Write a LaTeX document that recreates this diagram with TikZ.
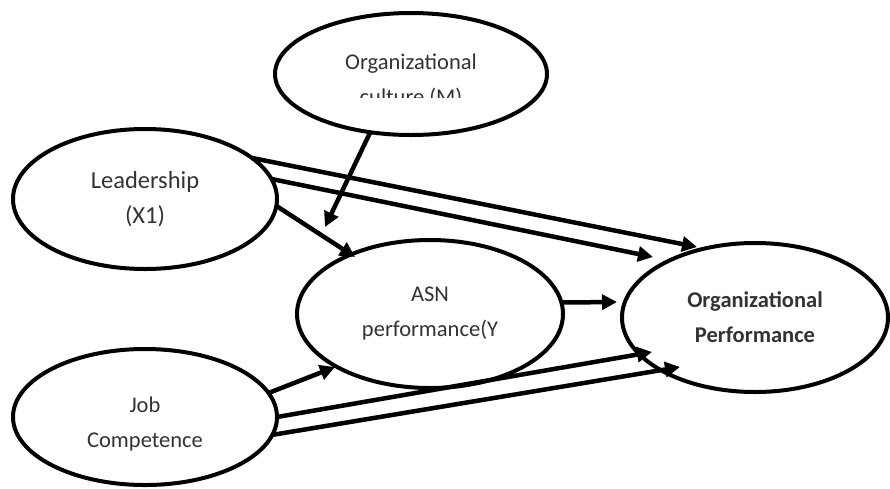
\documentclass[tikz,border=0pt]{standalone}
\usepackage{fontspec}
\setmainfont{Carlito}
\usetikzlibrary{shapes.geometric,arrows.meta}
\begin{document}
\begin{tikzpicture}[x=1pt,y=-1pt,
  oval/.style={ellipse, draw, line width=4pt, inner sep=0pt, outer sep=0pt,
    align=center, text=black!80, font=\fontsize{22.5}{35}\selectfont},
  ovaltext/.style={inner sep=0pt, align=center, text=black!80, font=\fontsize{22.5}{35}\selectfont},
  link/.style={line width=4.5pt, -{Triangle[length=15pt,width=15pt]}},
]
\fill[white] (0,0) rectangle (890,488);
\useasboundingbox (0,0) rectangle (890,488);

\node[oval, minimum width=272pt, minimum height=122pt] (cult) at (411,74) {};
\begin{scope}
  \clip (270,0) rectangle (560,97.5);
  \node[ovaltext] (culttext) at (411,81) {Organizational\\culture (M)};
\end{scope}

\node[oval, minimum width=264pt, minimum height=140pt,
      font=\fontsize{24.5}{35}\selectfont] (lead) at (145,199) {Leadership\\(X1)};
\node[oval, minimum width=266pt, minimum height=148pt] (asn) at (430,314) {ASN\\performance(Y};
\node[oval, minimum width=266pt, minimum height=149pt,
      font=\fontsize{22.5}{35}\selectfont\bfseries] (org) at (755,317.5) {Organizational\\Performance};
\node[oval, minimum width=264pt, minimum height=136pt] (job) at (145,417) {};
\node[ovaltext] (jobtext) at (145,424) {Job\\Competence};

\coordinate (t1) at (697,247);
\coordinate (t2) at (653,257);
\coordinate (t3) at (355,257);
\coordinate (t4) at (325,227);
\coordinate (t5) at (617,302);
\coordinate (t6) at (335,367);
\coordinate (t7) at (652,352);
\coordinate (t8) at (680,367);

\draw[link] (lead.21) -- (t1);
\draw[link] (lead.9) -- (t2);
\draw[link] (lead.-3) -- (t3);
\draw[link] (cult.235) -- (t4);
\draw[link] (asn.5) -- (t5);
\draw[link] (job.11) -- (t6);
\draw[link] (job.0) -- (t7);
\draw[link] (job.-8) -- (t8);
\end{tikzpicture}
\end{document}
